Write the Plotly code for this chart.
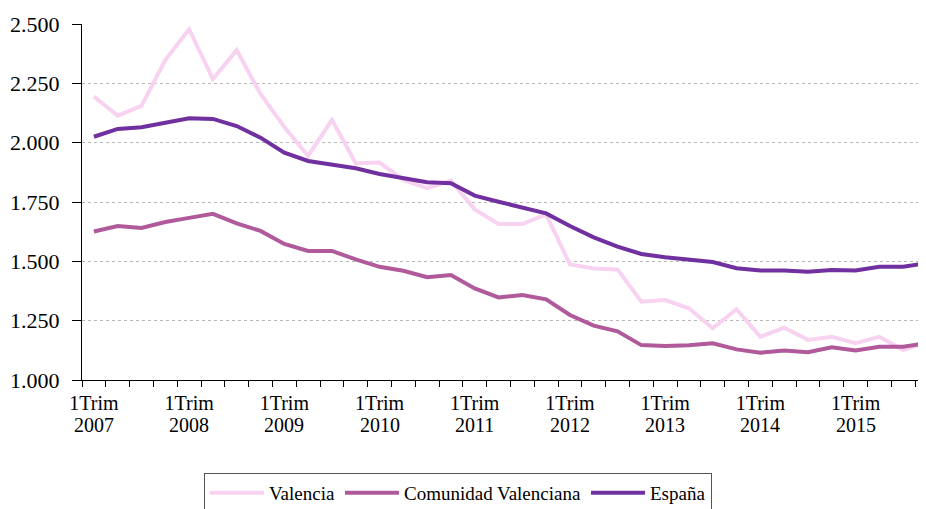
"""Precio vivienda: Valencia, Comunidad Valenciana y España (trimestral)."""

import plotly.graph_objects as go

years = list(range(2007, 2016))
quarters = [f"{q}Trim {y}" for y in years for q in range(1, 5)]

valencia = [
    2194, 2114, 2155, 2348, 2478, 2268, 2390, 2205, 2066, 1944, 2096, 1913,
    1916, 1843, 1808, 1840, 1719, 1657, 1657, 1698, 1487, 1470, 1466, 1330,
    1337, 1302, 1218, 1298, 1182, 1220, 1169, 1182, 1155, 1182, 1126, 1161,
]
comunidad = [
    1626, 1649, 1641, 1666, 1683, 1700, 1660, 1628, 1573, 1544, 1544, 1508,
    1477, 1460, 1433, 1442, 1386, 1348, 1358, 1340, 1274, 1229, 1205, 1147,
    1143, 1146, 1155, 1129, 1115, 1124, 1117, 1138, 1124, 1140, 1140, 1155,
]
espana = [
    2025, 2058, 2065, 2086, 2103, 2100, 2070, 2021, 1958, 1923, 1906, 1892,
    1868, 1850, 1833, 1829, 1777, 1751, 1727, 1702, 1649, 1601, 1562, 1531,
    1517, 1506, 1497, 1471, 1461, 1461, 1456, 1463, 1461, 1477, 1477, 1492,
]

SERIES = [
    ("Valencia", valencia, "#f8d3f1"),
    ("Comunidad Valenciana", comunidad, "#b05a9c"),
    ("España", espana, "#7030a0"),
]
FONT = "Liberation Serif, Times New Roman, serif"

# the page body adds an 8px margin, so the figure is laid out 8px up/left
W, H = 926, 509
x = list(range(len(quarters)))
first_q = [i for i, q in enumerate(quarters) if q.startswith("1Trim")]

fig = go.Figure()
for name, values, color in SERIES:
    fig.add_trace(
        go.Scatter(
            x=x,
            y=values,
            mode="lines",
            name=name,
            line=dict(color=color, width=4),
            cliponaxis=False,
        )
    )

# year line under each "1Trim" tick label
for i in first_q:
    fig.add_annotation(
        x=i,
        y=0,
        xref="x",
        yref="paper",
        yshift=-32,
        text=quarters[i].split(" ")[1],
        showarrow=False,
        yanchor="top",
        font=dict(family=FONT, size=20, color="black"),
    )

fig.update_layout(
    width=W,
    height=H,
    margin=dict(l=74, r=8, t=16, b=137),
    paper_bgcolor="white",
    plot_bgcolor="white",
    separators=",.",
    font=dict(family=FONT, size=19, color="black"),
    xaxis=dict(
        range=[-0.5, 34.96],
        automargin=False,
        tickvals=first_q,
        ticktext=[quarters[i].split(" ")[0] for i in first_q],
        ticks="",
        ticklabelstandoff=5,
        showgrid=False,
        zeroline=False,
        showline=True,
        linecolor="black",
        linewidth=1,
        tickfont=dict(size=20),
        minor=dict(
            tickvals=[i - 0.5 for i in range(len(quarters) + 1)],
            ticks="outside",
            ticklen=6,
            tickcolor="black",
            showgrid=False,
        ),
    ),
    yaxis=dict(
        range=[1000, 2500],
        automargin=False,
        tickvals=[1000, 1250, 1500, 1750, 2000, 2250, 2500],
        tickformat=",d",
        ticks="outside",
        ticklen=9,
        tickcolor="black",
        ticklabelstandoff=8,
        showline=True,
        linecolor="black",
        linewidth=1,
        zeroline=False,
        showgrid=True,
        gridcolor="#b8b8b8",
        griddash="dot",
        gridwidth=1,
        tickfont=dict(size=22),
    ),
    showlegend=True,
    legend=dict(
        orientation="h",
        xref="container",
        yref="container",
        x=196 / W,
        y=(H - 465) / H,
        xanchor="left",
        yanchor="top",
        bordercolor="#555555",
        borderwidth=1,
        itemwidth=54,
        font=dict(size=19),
        bgcolor="white",
    ),
)

fig.write_html("out.html")
